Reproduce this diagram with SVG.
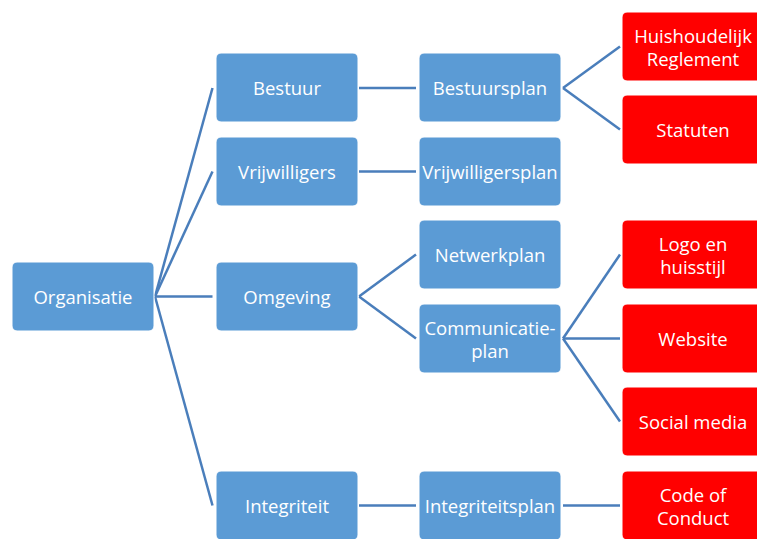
<svg xmlns="http://www.w3.org/2000/svg" width="757" height="539" viewBox="0 0 757 539">
<style>
.b{fill:#5b9bd5;stroke:#ffffff;stroke-width:1}
.r{fill:#ff0000;stroke:#ffffff;stroke-width:1}
text{font-family:"Open Sans","Liberation Sans",sans-serif;font-size:18.5px;fill:#ffffff;text-anchor:middle;dominant-baseline:central}
.c line{stroke:#4a7ebb;stroke-width:2.5;fill:none}
</style>
<rect width="757" height="539" fill="#ffffff"/>
<g class="c" id="connectors">
<line x1="155" y1="296.5" x2="212.5" y2="88"/>
<line x1="155" y1="296.5" x2="212.5" y2="171.5"/>
<line x1="155" y1="296.5" x2="212.5" y2="296.5"/>
<line x1="155" y1="296.5" x2="212.5" y2="505.5"/>
<line x1="359" y1="88" x2="416" y2="88"/>
<line x1="359" y1="171.5" x2="416" y2="171.5"/>
<line x1="416" y1="254.5" x2="359" y2="296.5" />
<line x1="359" y1="296.5" x2="416" y2="338.5"/>
<line x1="359" y1="505.5" x2="416" y2="505.5"/>
<line x1="563" y1="88" x2="620" y2="46.5"/>
<line x1="563" y1="88" x2="620" y2="129.5"/>
<line x1="563" y1="338.5" x2="620" y2="254.5"/>
<line x1="563" y1="338.5" x2="620" y2="338.5"/>
<line x1="563" y1="338.5" x2="620" y2="421.5"/>
<line x1="563" y1="505.5" x2="620" y2="505.5"/>
</g>
<g id="organisatie"><rect class="b" x="12" y="262" width="142" height="69" rx="5"/><text x="83" y="296.5">Organisatie</text></g>
<g id="bestuur"><rect class="b" x="216" y="53" width="142" height="69" rx="5"/><text x="287" y="87.5">Bestuur</text></g>
<g id="vrijwilligers"><rect class="b" x="216" y="137" width="142" height="69" rx="5"/><text x="287" y="171.5">Vrijwilligers</text></g>
<g id="omgeving"><rect class="b" x="216" y="262" width="142" height="69" rx="5"/><text x="287" y="296.5">Omgeving</text></g>
<g id="integriteit"><rect class="b" x="216" y="471" width="142" height="69" rx="5"/><text x="287" y="505.5">Integriteit</text></g>
<g id="bestuursplan"><rect class="b" x="419" y="53" width="142" height="69" rx="5"/><text x="490" y="87.5">Bestuursplan</text></g>
<g id="vrijwilligersplan"><rect class="b" x="419" y="137" width="142" height="69" rx="5"/><text x="490" y="171.5">Vrijwilligersplan</text></g>
<g id="netwerkplan"><rect class="b" x="419" y="220" width="142" height="69" rx="5"/><text x="490" y="254.5">Netwerkplan</text></g>
<g id="communicatieplan"><rect class="b" x="419" y="304" width="142" height="69" rx="5"/><text x="490" y="327">Communicatie-</text><text x="490" y="350">plan</text></g>
<g id="integriteitsplan"><rect class="b" x="419" y="471" width="142" height="69" rx="5"/><text x="490" y="505.5">Integriteitsplan</text></g>
<g id="huishoudelijk"><rect class="r" x="622" y="12" width="142" height="69" rx="5"/><text x="693" y="35">Huishoudelijk</text><text x="693" y="58">Reglement</text></g>
<g id="statuten"><rect class="r" x="622" y="95" width="142" height="69" rx="5"/><text x="693" y="129.5">Statuten</text></g>
<g id="logo"><rect class="r" x="622" y="220" width="142" height="69" rx="5"/><text x="693" y="243">Logo en</text><text x="693" y="266">huisstijl</text></g>
<g id="website"><rect class="r" x="622" y="304" width="142" height="69" rx="5"/><text x="693" y="338.5">Website</text></g>
<g id="social"><rect class="r" x="622" y="387" width="142" height="69" rx="5"/><text x="693" y="421.5">Social media</text></g>
<g id="code"><rect class="r" x="622" y="471" width="142" height="69" rx="5"/><text x="693" y="494">Code of</text><text x="693" y="517">Conduct</text></g>
</svg>
